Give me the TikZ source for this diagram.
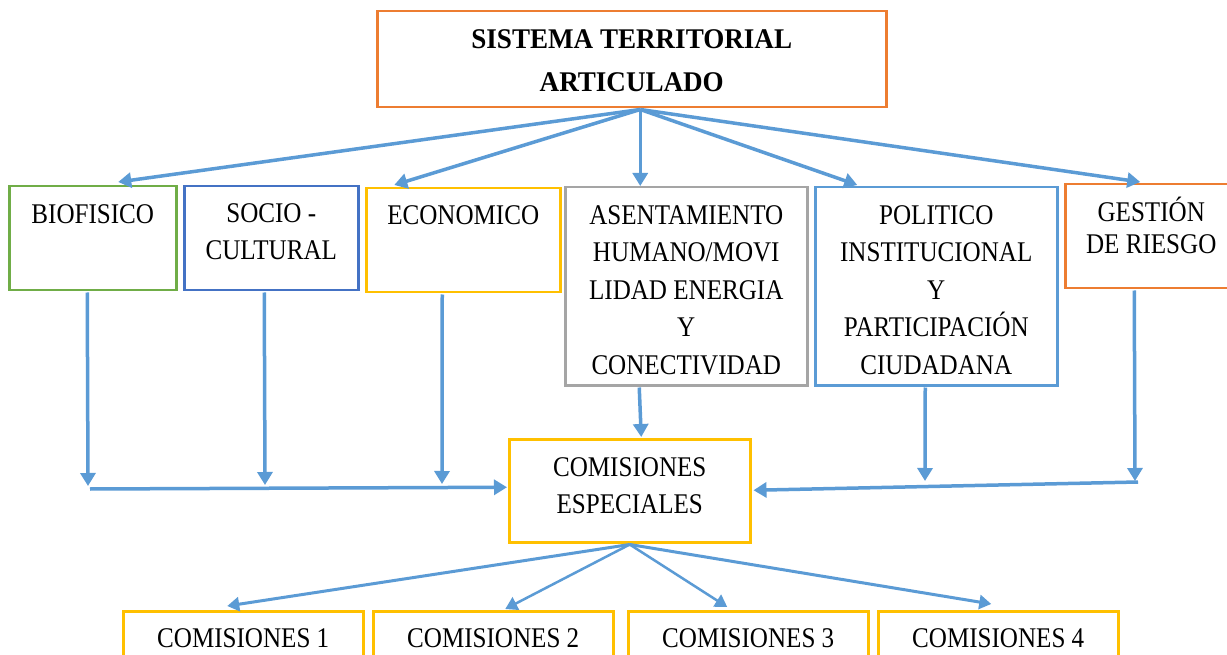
\documentclass[tikz,border=0pt]{standalone}
\usepackage{fontspec}
\setmainfont{Liberation Serif}[FakeStretch=0.88]
\newfontfamily\titlefont{Liberation Serif}[FakeStretch=0.95]
\usetikzlibrary{arrows.meta,calc}
\definecolor{cOrange}{HTML}{ED7D31}
\definecolor{cGreen}{HTML}{70AD47}
\definecolor{cBlue}{HTML}{4472C4}
\definecolor{cYellow}{HTML}{FFC000}
\definecolor{cGray}{HTML}{A5A5A5}
\definecolor{cLight}{HTML}{5B9BD5}
\begin{document}
\begin{tikzpicture}[x=1pt,y=-1pt,
  box/.style={draw, line width=2.5pt, rectangle, inner sep=0pt, anchor=north west},
  txt/.style={anchor=north, inner sep=0pt, align=center, font=\fontsize{28.5}{37.5}\selectfont},
  arr/.style={draw=cLight, line width=3.5pt, -{Triangle[length=13pt,width=15pt]}},
  arrb/.style={draw=cLight, line width=3pt, -{Triangle[length=12pt,width=14pt]}},
  ln/.style={draw=cLight, line width=3.5pt}]
\useasboundingbox (0,0) rectangle (1227,655);
\fill[white] (0,0) rectangle (1227,655);

% boxes
\node[box, draw=cOrange, minimum width=509pt, minimum height=96pt] (title) at (376,10) {};
\node[box, draw=cGreen, minimum width=167pt, minimum height=104pt] (bio) at (8,185) {};
\node[box, draw=cBlue, minimum width=174pt, minimum height=104pt] (socio) at (183,185) {};
\node[box, draw=cYellow, minimum width=194pt, minimum height=104pt] (eco) at (365,187) {};
\node[box, draw=cGray, minimum width=242pt, minimum height=198pt] (asent) at (564,186) {};
\node[box, draw=cLight, minimum width=242pt, minimum height=198pt] (pol) at (814,186) {};
\node[box, draw=cOrange, minimum width=172pt, minimum height=104pt] (gest) at (1064,183) {};
\node[box, draw=cYellow, minimum width=241pt, minimum height=103pt] (esp) at (508,438) {};
\node[box, draw=cYellow, minimum width=240pt, minimum height=80pt] (c1) at (122,610) {};
\node[box, draw=cYellow, minimum width=240pt, minimum height=80pt] (c2) at (372,610) {};
\node[box, draw=cYellow, minimum width=240pt, minimum height=80pt] (c3) at (627,610) {};
\node[box, draw=cYellow, minimum width=240pt, minimum height=80pt] (c4) at (877,610) {};

% texts
\node[txt, font=\titlefont\bfseries\fontsize{28.5}{43}\selectfont] (ttitle) at ([yshift=-19pt]title.north) {SISTEMA TERRITORIAL\\ARTICULADO};
\node[txt] (tbio) at ([yshift=-19pt]bio.north) {BIOFISICO};
\node[txt] (tsocio) at ([yshift=-18pt]socio.north) {SOCIO -\\CULTURAL};
\node[txt] (teco) at ([yshift=-18pt]eco.north) {ECONOMICO};
\node[txt] (tasent) at ([yshift=-19pt]asent.north) {ASENTAMIENTO\\HUMANO/MOVI\\LIDAD ENERGIA\\Y\\CONECTIVIDAD};
\node[txt] (tpol) at ([yshift=-19pt]pol.north) {POLITICO\\INSTITUCIONAL\\Y\\PARTICIPACIÓN\\CIUDADANA};
\node[txt, font=\fontsize{28.5}{32}\selectfont] (tgest) at ([yshift=-14pt]gest.north) {GESTIÓN\\DE RIESGO};
\node[txt] (tesp) at ([yshift=-19pt]esp.north) {COMISIONES\\ESPECIALES};
\node[txt] (tc1) at ([yshift=-18pt]c1.north) {COMISIONES 1};
\node[txt] (tc2) at ([yshift=-18pt]c2.north) {COMISIONES 2};
\node[txt] (tc3) at ([yshift=-18pt]c3.north) {COMISIONES 3};
\node[txt] (tc4) at ([yshift=-18pt]c4.north) {COMISIONES 4};

% top arrows
\coordinate (hub) at ([xshift=8.5pt,yshift=-1pt]title.south);
\draw[arr] (hub) -- ([xshift=25.5pt,yshift=3pt]bio.north);
\draw[arr] (hub) -- ([xshift=-69pt,yshift=2pt]eco.north);
\draw[arr] (hub) -- ([xshift=-46pt]asent.north);
\draw[arr] (hub) -- ([xshift=-79pt,yshift=1pt]pol.north);
\draw[arr] (hub) -- ([xshift=-11pt,yshift=1pt]gest.north);

% collector lines
\coordinate (lstart) at (90,489);
\coordinate (rstart) at (1138,482);
\coordinate (jbio) at (88,486);
\coordinate (jsocio) at (265,485);
\coordinate (jeco) at (442,484);
\coordinate (jpol) at (925,481);
\coordinate (jgest) at (1135,481);
\draw[arr] ([xshift=-5.5pt,yshift=-1pt]bio.south) -- (jbio);
\draw[arr] ([xshift=-7pt,yshift=-1pt]socio.south) -- (jsocio);
\draw[arr] ([xshift=-21pt,yshift=-1pt]eco.south) -- (jeco);
\draw[arr] ([xshift=-47pt,yshift=-1pt]asent.south) -- ([xshift=11.5pt,yshift=1pt]esp.north);
\draw[arr] ([xshift=-11pt,yshift=-1pt]pol.south) -- (jpol);
\draw[arr] ([xshift=-17pt,yshift=-1pt]gest.south) -- (jgest);
\draw[arr] (lstart) -- ([xshift=-1pt,yshift=3.5pt]esp.west);
\draw[arr] (rstart) -- ([xshift=2pt,yshift=0.5pt]esp.east);

% bottom arrows
\coordinate (hub2) at ([yshift=-1pt]esp.south);
\draw[arrb] (hub2) -- ([xshift=-16pt,yshift=4pt]c1.north);
\draw[arrb, line width=2.5pt] (hub2) -- ([xshift=12pt,yshift=1pt]c2.north);
\draw[arrb, line width=2.5pt] (hub2) -- ([xshift=-21pt,yshift=3pt]c3.north);
\draw[arrb] (hub2) -- ([xshift=-7pt,yshift=6pt]c4.north);
\end{tikzpicture}
\end{document}
